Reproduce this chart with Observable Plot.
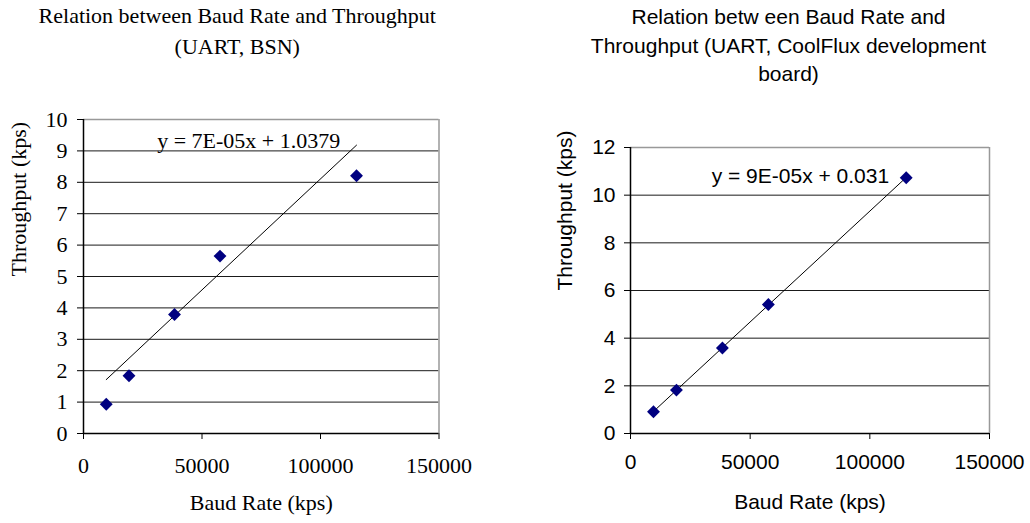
<!DOCTYPE html>
<html>
<head>
<meta charset="utf-8">
<script src="https://cdn.jsdelivr.net/npm/d3@7"></script>
<script src="https://cdn.jsdelivr.net/npm/@observablehq/plot@0.6"></script>
<style>
  html, body { margin: 0; padding: 0; background: #fff; }
  #wrap { position: relative; width: 1030px; height: 523px; overflow: hidden; background: #fff; }
  #wrap > div { position: absolute; top: 0; }
  svg { display: block; }
</style>
</head>
<body>
<div id="wrap"><div id="left" style="left:0"></div><div id="right" style="left:515px"></div></div>
<script>
// ---- data ----
const baudRates = [9600, 19200, 38400, 57600, 115200];
const bsnThroughput = [0.93, 1.84, 3.79, 5.65, 8.21];
const coolfluxThroughput = [0.91, 1.82, 3.59, 5.41, 10.73];
const xTicks = [0, 50000, 100000, 150000];
const bsnYTicks = [0, 1, 2, 3, 4, 5, 6, 7, 8, 9, 10];
const coolfluxYTicks = [0, 2, 4, 6, 8, 10, 12];
const trendSlopes = [0.0000707, 0.000093];
const trendIntercepts = [1.0379, 0.031];
const equationLabels = ["y = 7E-05x + 1.0379", "y = 9E-05x + 0.031"];
const chartTitles = [
  "Relation between Baud Rate and Throughput\n(UART, BSN)",
  "Relation betw een Baud Rate and\nThroughput (UART, CoolFlux development\nboard)"
];
const xTitle = "Baud Rate (kps)";
const yTitle = "Throughput (kps)";

function makeChart(cfg) {
  const pts = baudRates.map((b, i) => ({x: b, y: cfg.values[i]}));
  const xr = [baudRates[0], baudRates[baudRates.length - 1]];
  const trend = xr.map(x => ({x, y: cfg.slope * x + cfg.intercept}));
  const yMax = cfg.yTicks[cfg.yTicks.length - 1];
  const inner = cfg.yTicks.filter(t => t !== 0 && t !== yMax);
  const fs = cfg.fontSize;
  return Plot.plot({
    width: 515, height: 523,
    marginLeft: cfg.ml, marginRight: cfg.mr, marginTop: cfg.mt, marginBottom: 90,
    style: {fontFamily: cfg.font, fontSize: fs + "px", color: "#000", background: "#fff", overflow: "visible"},
    x: {domain: [0, 150000]},
    y: {domain: [0, yMax]},
    marks: [
      Plot.ruleY(inner, {stroke: "#1a1a1a", strokeWidth: 1}),
      Plot.ruleY([yMax], {stroke: "#999", strokeWidth: 1.5}),
      Plot.ruleX([150000], {stroke: "#999", strokeWidth: 1.5}),
      Plot.line(trend, {x: "x", y: "y", stroke: "#000", strokeWidth: 1}),
      Plot.dot(pts, {x: "x", y: "y", symbol: "diamond2", r: 5.8, fill: "#000080", stroke: "none"}),
      Plot.text([cfg.eq], {x: cfg.eqX, y: cfg.eqY, text: d => d, fontSize: fs, fill: "#000"}),
      Plot.ruleX([0], {stroke: "#000", strokeWidth: 1.5}),
      Plot.ruleY([0], {stroke: "#000", strokeWidth: 1.5}),
      Plot.axisX({ticks: xTicks, tickFormat: d => String(d), tickSize: 6, tickPadding: cfg.xPad, label: null, fontSize: fs}),
      Plot.axisY({ticks: cfg.yTicks, tickFormat: d => String(d), tickSize: 6, tickPadding: cfg.yPad, label: null, fontSize: fs}),
      Plot.text([xTitle], {frameAnchor: "bottom", dy: cfg.xTitleDy, text: d => d, fontSize: fs}),
      Plot.text([yTitle], {frameAnchor: "left", dx: -cfg.yTitleOff, rotate: -90, text: d => d, fontSize: fs}),
      Plot.text([cfg.title], {frameAnchor: "top", dx: cfg.titleDx, dy: cfg.titleDy, text: d => d, lineHeight: cfg.lh, fontSize: fs, lineAnchor: "middle"})
    ]
  });
}

document.getElementById("left").appendChild(makeChart({
  values: bsnThroughput, yTicks: bsnYTicks, slope: trendSlopes[0], intercept: trendIntercepts[0],
  eq: equationLabels[0], eqX: 69700, eqY: 9.33,
  ml: 83, mr: 76.5, mt: 119, font: "'Liberation Serif', 'Times New Roman', serif", fontSize: 22,
  xPad: 18, yPad: 10, yTitleOff: 65, xTitleDy: 76, title: chartTitles[0], titleDx: -24, titleDy: -90.5, lh: 1.41
}));
document.getElementById("right").appendChild(makeChart({
  values: coolfluxThroughput, yTicks: coolfluxYTicks, slope: trendSlopes[1], intercept: trendIntercepts[1],
  eq: equationLabels[1], eqX: 71000, eqY: 10.78,
  ml: 115, mr: 41, mt: 147, font: "'Liberation Sans', Arial, sans-serif", fontSize: 21,
  xPad: 15, yPad: 9, yTitleOff: 65, xTitleDy: 75, title: chartTitles[1], titleDx: -21.5, titleDy: -104, lh: 1.36
}));
</script>
</body>
</html>
